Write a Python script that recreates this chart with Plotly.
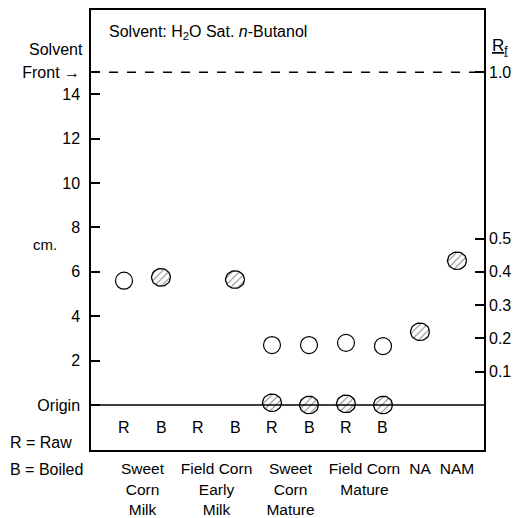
import numpy as np
import plotly.graph_objects as go

# ---------------- data ----------------
lane_labels = ["R", "B", "R", "B", "R", "B", "R", "B", "NA", "NAM"]
lane_pos = [1, 2, 3, 4, 5, 6, 7, 8, 9, 10]

group_ticks = [1.5, 3.5, 5.5, 7.5, 9, 10]
group_labels = ["Sweet<br>Corn<br>Milk", "Field Corn<br>Early<br>Milk",
                "Sweet<br>Corn<br>Mature", "Field Corn<br>Mature", "NA", "NAM"]

# open (unhatched) spots: lane position, distance in cm
open_x = [1, 5, 6, 7, 8]
open_cm = [5.6, 2.7, 2.7, 2.8, 2.65]

# hatched spots: lane position, distance in cm
hatch_x = [2, 4, 5, 6, 7, 8, 9, 10]
hatch_cm = [5.75, 5.65, 0.1, 0.0, 0.05, 0.0, 3.3, 6.5]

solvent_front_cm = 15.0
cm_ticks = [0, 2, 4, 6, 8, 10, 12, 14, 15]
cm_ticktext = ["Origin", "2", "4", "6", "8", "10", "12", "14", "Front \u2192"]
rf_ticks = [0.1, 0.2, 0.3, 0.4, 0.5, 1.0]
rf_ticktext = ["0.1", "0.2", "0.3", "0.4", "0.5", "1.0"]

# ---------------- layout constants ----------------
FONT = "Liberation Sans Narrow, Liberation Sans, Arial, sans-serif"
W, H = 513, 518
ML, MR, MT, MB = 91, 29, 10, 68
X_RANGE = [0.108, 10.73]
Y_RANGE = [-2.03, 17.8]
px_per_x = (W - ML - MR) / (X_RANGE[1] - X_RANGE[0])
px_per_y = (H - MT - MB) / (Y_RANGE[1] - Y_RANGE[0])

fig = go.Figure()

# hatched spots as small filled ellipses with a line pattern
rx = 9.5 / px_per_x
ry = 8.8 / px_per_y
t = np.linspace(0, 2 * np.pi, 40)
hx, hy = [], []
for xc, yc in zip(hatch_x, hatch_cm):
    hx += list(xc + rx * np.cos(t)) + [None]
    hy += list(yc + ry * np.sin(t)) + [None]
fig.add_trace(go.Scatter(
    x=hx, y=hy, mode="lines", fill="toself",
    line=dict(color="black", width=1.3),
    fillcolor="white",
    fillpattern=dict(shape="/", fgcolor="black", bgcolor="white", size=5, solidity=0.2),
    hoverinfo="skip", showlegend=False))

# open spots
fig.add_trace(go.Scatter(
    x=open_x, y=open_cm, mode="markers",
    marker=dict(symbol="circle", size=17, color="white",
                line=dict(color="black", width=1.2)),
    showlegend=False))

# dummy trace on the Rf axis so it renders
fig.add_trace(go.Scatter(x=[None], y=[None], yaxis="y2", showlegend=False))

# reference lines: solvent front (dashed) and origin
fig.add_shape(type="line", xref="paper", x0=0, x1=1, yref="y",
              y0=solvent_front_cm, y1=solvent_front_cm,
              line=dict(color="black", width=1.5, dash="dash"))
fig.add_shape(type="line", xref="paper", x0=0, x1=1, yref="y",
              y0=0, y1=0, line=dict(color="black", width=1.5))

annotations = []
# R / B lane labels under the origin
for xl, lab in zip(lane_pos[:8], lane_labels[:8]):
    annotations.append(dict(x=xl, y=-1, xref="x", yref="y", text=lab,
                            showarrow=False, font=dict(size=16)))
annotations += [
    dict(x=0.041, y=0.95, xref="paper", yref="paper", xanchor="left",
         yanchor="middle", showarrow=False,
         text="Solvent: H<sub>2</sub>O Sat. <i>n</i>-Butanol", font=dict(size=16)),
    dict(x=-0.089, y=0.91, xref="paper", yref="paper", xanchor="center",
         yanchor="middle", showarrow=False, text="Solvent", font=dict(size=16)),
    dict(x=-0.117, y=0.466, xref="paper", yref="paper", xanchor="center",
         yanchor="middle", showarrow=False, text="cm.", font=dict(size=15)),
    dict(x=1.015, y=0.915, xref="paper", yref="paper", xanchor="left",
         yanchor="middle", showarrow=False, text="<u>R<sub>f</sub></u>",
         font=dict(size=17)),
    dict(x=-0.211, y=0.018, xref="paper", yref="paper", xanchor="left",
         yanchor="middle", showarrow=False, text="R = Raw", font=dict(size=16)),
    dict(x=-0.211, y=-0.045, xref="paper", yref="paper", xanchor="left",
         yanchor="middle", showarrow=False, text="B = Boiled", font=dict(size=16)),
]

fig.update_layout(
    width=W, height=H,
    margin=dict(l=ML, r=MR, t=MT, b=MB, autoexpand=False),
    paper_bgcolor="white", plot_bgcolor="white",
    font=dict(family=FONT, size=16, color="black"),
    annotations=annotations,
    xaxis=dict(range=X_RANGE, tickvals=group_ticks, ticktext=group_labels,
               showgrid=False, zeroline=False, showline=True, mirror=True,
               linecolor="black", linewidth=1.5, ticks="", ticklabelstandoff=4,
               tickfont=dict(size=15.5),
               automargin=False, fixedrange=True),
    yaxis=dict(range=Y_RANGE, tickvals=cm_ticks, ticktext=cm_ticktext,
               showgrid=False, zeroline=False, showline=True, mirror=True,
               linecolor="black", linewidth=1.5, ticks="inside", ticklen=9,
               tickwidth=1.5, tickcolor="black", ticklabelstandoff=6,
               automargin=False, fixedrange=True),
    yaxis2=dict(range=[v / solvent_front_cm for v in Y_RANGE], overlaying="y",
                side="right", tickvals=rf_ticks, ticktext=rf_ticktext,
                showgrid=False, zeroline=False, showline=False,
                ticks="inside", ticklen=9, tickwidth=1.5, tickcolor="black",
                ticklabelstandoff=4, automargin=False, fixedrange=True),
)

fig.write_html("out.html")
